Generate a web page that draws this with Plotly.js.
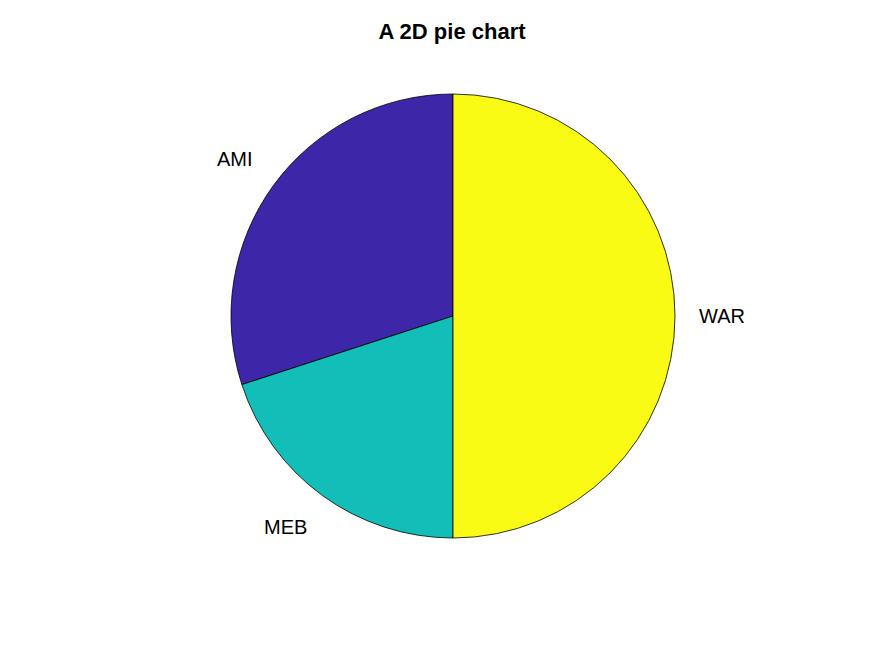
<!DOCTYPE html>
<html>
<head>
<meta charset="utf-8">
<script src="https://cdn.plot.ly/plotly-3.0.1.min.js"></script>
<style>html,body{margin:0;padding:0;background:#fff;}#chart{width:875px;height:656px;}</style>
</head>
<body>
<div id="chart"></div>
<script>
const categories = ['AMI', 'MEB', 'WAR'];
const values = [30, 20, 50];
const colors = ['#3E26A8', '#13BEB8', '#F9FB15'];

const W = 875, H = 656;
const cx = 453, cy = 316, R = 222;
const domX = [(cx - R) / W, (cx + R) / W];
const domY = [(H - (cy + R)) / H, (H - (cy - R)) / H];

const total = values.reduce((a, b) => a + b, 0);

// label annotations at 1.1 * radius, at the middle angle of each slice
let cum = 0;
const annotations = categories.map((c, i) => {
  const mid = (cum + values[i] / 2) / total;
  cum += values[i];
  const ang = Math.PI / 2 + mid * 2 * Math.PI; // counterclockwise from top
  const dx = Math.cos(ang), dy = Math.sin(ang);
  const px = cx + 1.1 * R * dx;
  const py = cy - 1.1 * R * dy;
  return {
    text: c,
    xref: 'paper', yref: 'paper',
    x: px / W, y: 1 - py / H,
    xanchor: dx < -1e-6 ? 'right' : (dx > 1e-6 ? 'left' : 'center'),
    yanchor: dy > 1e-6 ? 'bottom' : (dy < -1e-6 ? 'top' : 'middle'),
    showarrow: false,
    font: {family: 'Liberation Sans, Arial, sans-serif', size: 20, color: '#000'}
  };
});

const data = [{
  type: 'pie',
  labels: categories,
  values: values,
  sort: false,
  direction: 'counterclockwise',
  // plotly ends the first counterclockwise slice at the rotation angle; shift so it starts at 12 o'clock
  rotation: -360 * values[0] / total,
  textinfo: 'none',
  hoverinfo: 'skip',
  marker: {colors: colors, line: {color: '#000', width: 0.8}},
  domain: {x: domX, y: domY},
  showlegend: false
}];

const layout = {
  width: W, height: H,
  margin: {l: 0, r: 0, t: 0, b: 0},
  paper_bgcolor: '#fff',
  plot_bgcolor: '#fff',
  showlegend: false,
  title: {
    text: '<b>A 2D pie chart</b>',
    font: {family: 'Liberation Sans, Arial, sans-serif', size: 22, color: '#000'},
    x: 452 / W, xanchor: 'center',
    yref: 'container', y: 1 - 31 / H, yanchor: 'middle'
  },
  annotations: annotations
};

Plotly.newPlot('chart', data, layout, {displayModeBar: false, staticPlot: true});
</script>
</body>
</html>
